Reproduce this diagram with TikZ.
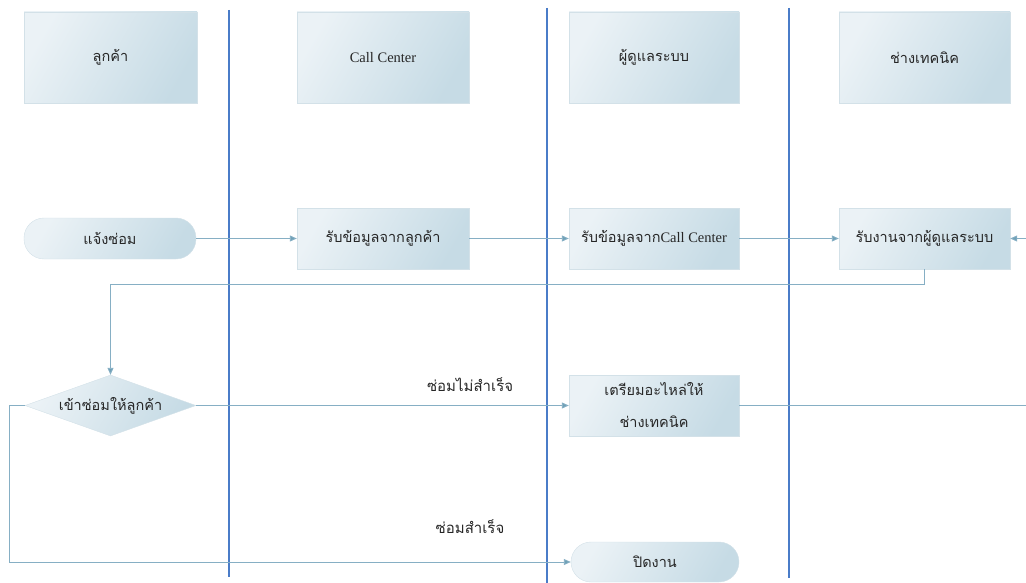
\documentclass[tikz,border=0pt]{standalone}
\usepackage{fontspec}
\setmainfont{Liberation Serif}
\newfontfamily\thaifont[Script=Thai]{Loma}
\usetikzlibrary{shapes.geometric,arrows.meta}
\definecolor{laneblue}{HTML}{4A7CC8}
\definecolor{conn}{HTML}{86AFC4}
\definecolor{tipc}{HTML}{6FA0B6}
\definecolor{boxA}{HTML}{EBF2F6}
\definecolor{boxB}{HTML}{C6DBE5}
\definecolor{boxline}{HTML}{D3E1E8}
\newcommand{\latn}[1]{{\rmfamily\fontsize{14.5}{16}\selectfont #1}}
\tikzset{
  box/.style={draw=boxline, left color=boxA, right color=boxB, shading angle=60, inner sep=0pt, align=center, font=\thaifont\fontsize{14.5}{20}\selectfont, text=black!85},
  stadium/.style={box, rounded corners=20pt},
  decide/.style={box, diamond, aspect=2.8},
  lane/.style={draw=laneblue, line width=1.4pt},
  flow/.style={draw=conn, line width=0.9pt, -{Triangle[length=7pt,width=6pt,fill=tipc]}},
  plain/.style={draw=conn, line width=0.9pt},
  lbl/.style={font=\thaifont\fontsize{15}{17}\selectfont, text=black!85}
}
\begin{document}
\begin{tikzpicture}[x=1pt,y=-1pt]
\useasboundingbox (0,0) rectangle (1026,583);
% lane dividers
\draw[lane] (229,10) -- (229,577);
\draw[lane] (547,8) -- (547,583);
\draw[lane] (789,8) -- (789,578);
% headers
\node[box, minimum width=173pt, minimum height=91pt] (h1) at (110.5,57.5) {ลูกค้า};
\node[box, minimum width=172pt, minimum height=91pt] (h2) at (383,57.5) {\latn{Call Center}};
\node[box, minimum width=170pt, minimum height=91pt] (h3) at (654,57.5) {ผู้ดูแลระบบ};
\node[box, minimum width=171pt, minimum height=91pt] (h4) at (924.5,57.5) {ช่างเทคนิค};
% row 1
\node[stadium, minimum width=172pt, minimum height=41pt] (s1) at (110,238.5) {แจ้งซ่อม};
\node[box, minimum width=172pt, minimum height=61pt] (r1) at (383,238.5) {รับข้อมูลจากลูกค้า};
\node[box, minimum width=170pt, minimum height=61pt] (r2) at (654,238.5) {รับข้อมูลจาก\latn{Call Center}};
\node[box, minimum width=171pt, minimum height=61pt] (r3) at (924.5,238.5) {รับงานจากผู้ดูแลระบบ};
% row 2
\node[decide, minimum width=171pt, minimum height=61pt] (d) at (110.5,405.5) {เข้าซ่อมให้ลูกค้า};
\node[box, minimum width=170pt, minimum height=61pt, font=\thaifont\fontsize{14.5}{32}\selectfont] (prep) at (654,405.5) {เตรียมอะไหล่ให้\\ช่างเทคนิค};
\node[stadium, minimum width=168pt, minimum height=40pt] (close) at (655,562) {ปิดงาน};
% free ends
\coordinate (inR) at (1026,238.5);
\coordinate (outR) at (1026,405.5);
\coordinate (loopL) at (9,405.5);
% connectors
\draw[flow] (s1.east) -- (r1.west);
\draw[flow] (r1.east) -- (r2.west);
\draw[flow] (r2.east) -- (r3.west);
\draw[flow] (inR) -- (r3.east);
\draw[flow] (r3.south) -- ++(0,15) -| (d.north);
\draw[flow] (d.east) -- node[lbl, pos=0.735, above=10pt] (l1) {ซ่อมไม่สำเร็จ} (prep.west);
\draw[plain] (prep.east) -- (outR);
\draw[flow] (d.west) -- (loopL) |- (close.west);
\node[lbl] (l2) at (470,527) {ซ่อมสำเร็จ};
\end{tikzpicture}
\end{document}
